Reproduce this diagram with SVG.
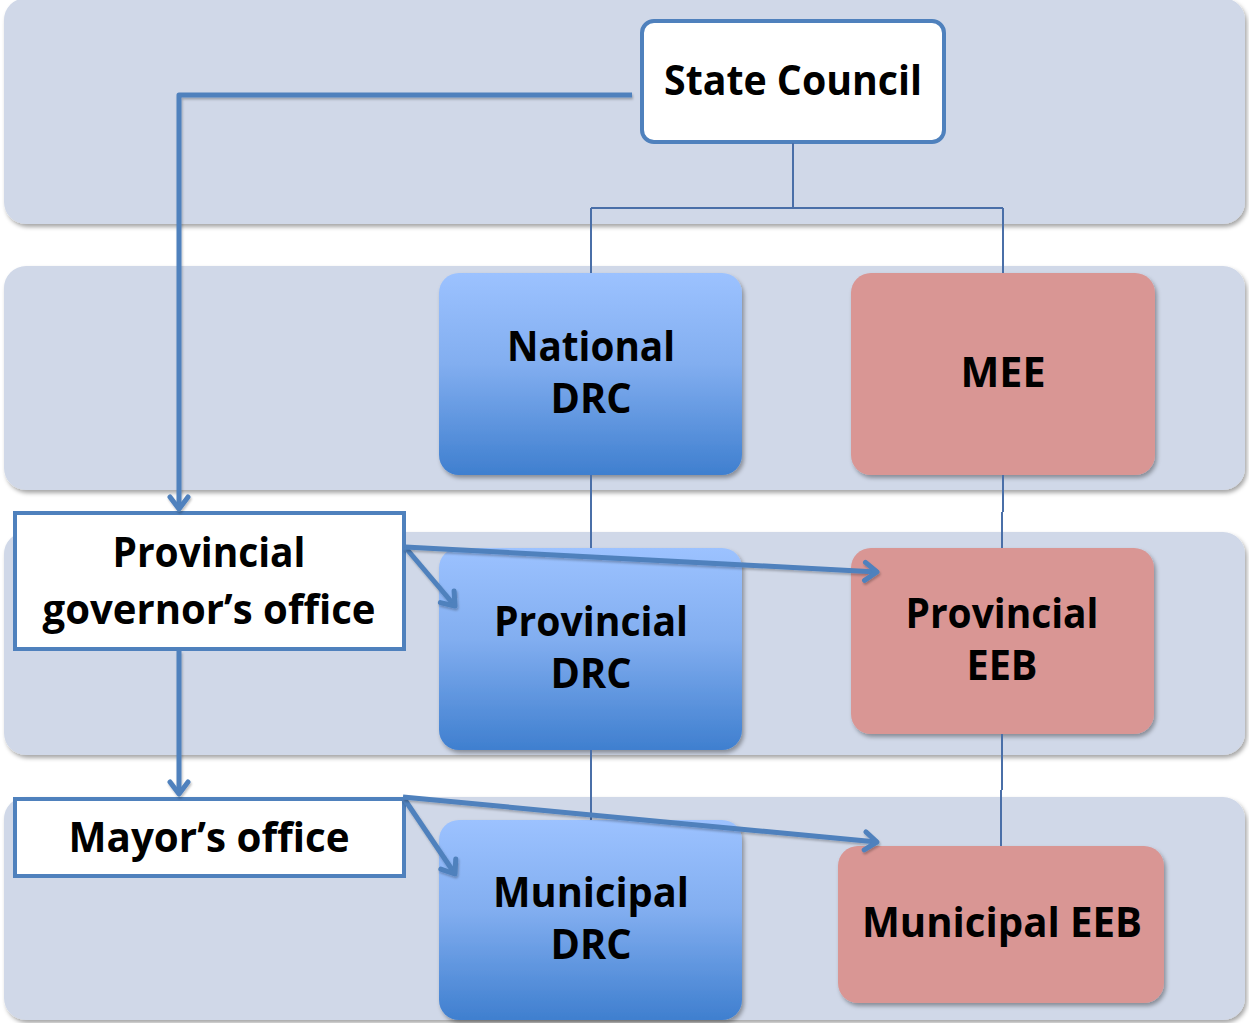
<svg xmlns="http://www.w3.org/2000/svg" width="1249" height="1023" viewBox="0 0 1249 1023">
<defs>
<style>
.band{fill:#d0d8e8;filter:url(#sh)}
.drc{fill:url(#gblue);filter:url(#sh)}
.eeb{fill:#d99694;filter:url(#sh)}
.wbox{fill:#ffffff;stroke:#4f81bd;stroke-width:4}
.t{font-family:"Open Sans","Liberation Sans",sans-serif;font-weight:bold;font-size:41px;fill:#000;text-anchor:middle}
.thin{fill:none;stroke:#4a6fa8;stroke-width:2}
.arr{fill:none;stroke:#4f81bd;stroke-width:5;stroke-linejoin:round;filter:url(#lsh)}
</style>
<linearGradient id="gblue" x1="0" y1="0" x2="0" y2="1">
<stop offset="0" stop-color="#9cc2ff"/>
<stop offset="0.45" stop-color="#82aef0"/>
<stop offset="1" stop-color="#3f7fcf"/>
</linearGradient>
<filter id="sh" x="-10%" y="-10%" width="120%" height="130%">
<feDropShadow dx="2" dy="3" stdDeviation="2" flood-color="#000" flood-opacity="0.35"/>
</filter>
<filter id="lsh" filterUnits="userSpaceOnUse" x="0" y="0" width="1249" height="1023">
<feDropShadow dx="1" dy="2" stdDeviation="1.2" flood-color="#000" flood-opacity="0.25"/>
</filter>
<marker id="ah" viewBox="0 0 24 24" refX="21" refY="12" markerWidth="24" markerHeight="24" markerUnits="userSpaceOnUse" orient="auto">
<path d="M9,3 L21,12 L9,21" fill="none" stroke="#4f81bd" stroke-width="5" stroke-linejoin="round" stroke-linecap="round"/>
</marker>
</defs>

<g id="bands">
<rect class="band" x="4" y="-2" width="1241" height="226" rx="22"/>
<rect class="band" x="4" y="266" width="1241" height="224" rx="22"/>
<rect class="band" x="4" y="532" width="1241" height="223" rx="22"/>
<rect class="band" x="4" y="797" width="1241" height="223" rx="22"/>
</g>

<g id="state-council">
<rect class="wbox" x="642" y="21" width="302" height="121" rx="12"/>
<text class="t" x="793" y="95" textLength="258" lengthAdjust="spacingAndGlyphs">State Council</text>
</g>

<g id="national-drc">
<rect class="drc" x="439" y="273" width="303" height="202" rx="20"/>
<text class="t" x="591" y="361" textLength="168" lengthAdjust="spacingAndGlyphs">National</text>
<text class="t" x="591" y="413" textLength="81" lengthAdjust="spacingAndGlyphs">DRC</text>
</g>

<g id="mee">
<rect class="eeb" x="851" y="273" width="304" height="202" rx="20"/>
<text class="t" x="1003" y="387" textLength="85" lengthAdjust="spacingAndGlyphs">MEE</text>
</g>

<g id="provincial-drc">
<rect class="drc" x="439" y="548" width="303" height="202" rx="20"/>
<text class="t" x="591" y="636" textLength="194" lengthAdjust="spacingAndGlyphs">Provincial</text>
<text class="t" x="591" y="688" textLength="81" lengthAdjust="spacingAndGlyphs">DRC</text>
</g>

<g id="provincial-eeb">
<rect class="eeb" x="851" y="548" width="303" height="186" rx="20"/>
<text class="t" x="1002" y="628" textLength="193" lengthAdjust="spacingAndGlyphs">Provincial</text>
<text class="t" x="1002" y="680" textLength="71" lengthAdjust="spacingAndGlyphs">EEB</text>
</g>

<g id="municipal-drc">
<rect class="drc" x="439" y="820" width="303" height="200" rx="20"/>
<text class="t" x="591" y="907" textLength="196" lengthAdjust="spacingAndGlyphs">Municipal</text>
<text class="t" x="591" y="959" textLength="81" lengthAdjust="spacingAndGlyphs">DRC</text>
</g>

<g id="municipal-eeb">
<rect class="eeb" x="838" y="846" width="326" height="157" rx="20"/>
<text class="t" x="1002" y="937" textLength="280" lengthAdjust="spacingAndGlyphs">Municipal EEB</text>
</g>

<g id="provincial-governor-office">
<rect class="wbox" x="15" y="513" width="389" height="136"/>
<text class="t" x="209" y="567" textLength="193" lengthAdjust="spacingAndGlyphs">Provincial</text>
<text class="t" x="209" y="624" textLength="333" lengthAdjust="spacingAndGlyphs">governor’s office</text>
</g>

<g id="mayor-office">
<rect class="wbox" x="15" y="799" width="389" height="77"/>
<text class="t" x="209" y="852" textLength="281" lengthAdjust="spacingAndGlyphs">Mayor’s office</text>
</g>

<g id="connectors">
<path class="thin" d="M793,143 V208 M591,208 H1003 M591,208 V273 M1003,208 V273"/>
<path class="thin" d="M591,475 V548 M1003,475 V512 M1002,512 V548"/>
<path class="thin" d="M591,750 V820 M1002,734 V790 M1001,790 V846"/>
<path class="arr" d="M632,95 H179 V509" marker-end="url(#ah)"/>
<path class="arr" d="M179,651 V794" marker-end="url(#ah)"/>
<path class="arr" d="M405,547 L455,606" marker-end="url(#ah)"/>
<path class="arr" d="M405,547 L877,572" marker-end="url(#ah)"/>
<path class="arr" d="M403,797 L455,874" marker-end="url(#ah)"/>
<path class="arr" d="M403,797 L877,842" marker-end="url(#ah)"/>
</g>
</svg>
